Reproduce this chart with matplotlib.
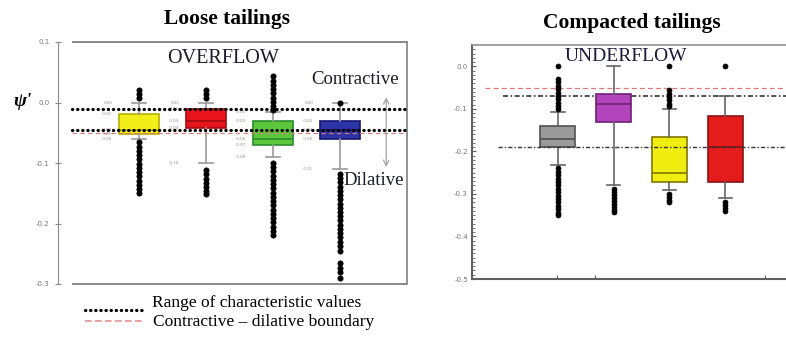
import matplotlib.pyplot as plt
from matplotlib.lines import Line2D

plt.rcParams['axes.unicode_minus'] = False
SERIF = 'Liberation Serif'

W, H = 786, 345


def fx(px):
    return px / W


def fy(py):
    return 1 - py / H


# Loose tailings / OVERFLOW box statistics
over_face = ['#f2ee1a', '#e8161c', '#5cc63c', '#2c34a8']
over_edge = ['#b8b000', '#a00c10', '#2a8c2a', '#181870']
over_q1 = [-0.052, -0.042, -0.070, -0.060]
over_med = [-0.045, -0.030, -0.060, -0.045]
over_q3 = [-0.019, -0.010, -0.031, -0.030]
over_lo = [-0.060, -0.100, -0.090, -0.110]
over_hi = [0.000, 0.000, -0.015, 0.000]
over_fliers = [
    [0.008, 0.014, 0.020, -0.066, -0.073, -0.080, -0.087, -0.094, -0.101,
     -0.108, -0.115, -0.122, -0.129, -0.136, -0.143, -0.150],
    [0.008, 0.014, 0.020, -0.112, -0.119, -0.126, -0.133, -0.140, -0.147,
     -0.152],
    [0.043, 0.036, 0.029, 0.022, 0.015, 0.008, 0.001, -0.006, -0.013,
     -0.100, -0.107, -0.114, -0.121, -0.128, -0.135, -0.142, -0.149,
     -0.156, -0.163, -0.170, -0.177, -0.184, -0.191, -0.198, -0.205,
     -0.212, -0.219],
    [0.000, -0.118, -0.125, -0.132, -0.139, -0.146, -0.153, -0.160, -0.167,
     -0.174, -0.181, -0.188, -0.195, -0.202, -0.209, -0.216, -0.223,
     -0.230, -0.237, -0.245, -0.266, -0.273, -0.280, -0.290],
]
over_char = [-0.011, -0.046]   # range of characteristic values
over_bound = -0.050            # contractive - dilative boundary

# Compacted tailings / UNDERFLOW box statistics
under_face = ['#9a9a9a', '#b444bc', '#f0ee10', '#e41c1c']
under_edge = ['#505050', '#6c2074', '#807800', '#8c1010']
under_q1 = [-0.190, -0.132, -0.273, -0.273]
under_med = [-0.170, -0.088, -0.250, -0.190]
under_q3 = [-0.140, -0.065, -0.167, -0.118]
under_lo = [-0.232, -0.280, -0.290, -0.310]
under_hi = [-0.108, 0.000, -0.100, -0.070]
under_fliers = [
    [0.0, -0.030, -0.038, -0.046, -0.054, -0.062, -0.070, -0.078, -0.086,
     -0.094, -0.100, -0.240, -0.248, -0.256, -0.264, -0.272, -0.280,
     -0.288, -0.296, -0.304, -0.312, -0.320, -0.328, -0.336, -0.344,
     -0.350],
    [-0.288, -0.295, -0.302, -0.309, -0.316, -0.323, -0.330, -0.337, -0.342],
    [0.0, -0.056, -0.064, -0.072, -0.080, -0.088, -0.094, -0.300, -0.307,
     -0.314, -0.320],
    [0.0, -0.318, -0.325, -0.332, -0.340],
]
under_char = [-0.070, -0.190]
under_bound = -0.051


def make_stats(q1, med, q3, lo, hi, fliers):
    return [dict(q1=a, med=b, q3=c, whislo=d, whishi=e, fliers=f)
            for a, b, c, d, e, f in zip(q1, med, q3, lo, hi, fliers)]


def draw_boxes(ax, stats, faces, edges, width, capw, whis_col, ms):
    res = ax.bxp(stats, positions=range(1, len(stats) + 1), widths=width,
                 patch_artist=True, showfliers=True, capwidths=capw,
                 whiskerprops=dict(color=whis_col, lw=1.2),
                 capprops=dict(color=whis_col, lw=1.2),
                 flierprops=dict(marker='o', markerfacecolor='black',
                                 markeredgecolor='black', markersize=ms,
                                 markeredgewidth=0.5),
                 manage_ticks=False, zorder=3)
    for box, med, fc, ec in zip(res['boxes'], res['medians'], faces, edges):
        box.set_facecolor(fc)
        box.set_edgecolor(ec)
        box.set_linewidth(1.2)
        med.set_color(ec)
        med.set_linewidth(1.2)
    return res


fig = plt.figure(figsize=(W / 100, H / 100), dpi=100)

# ---------------- left panel ----------------
ax1 = fig.add_axes([fx(58), fy(284), 349 / W, 242 / H])
ax1.set_xlim(-0.21, 5.0)
ax1.set_ylim(-0.3, 0.1)
for s in ['top', 'bottom']:
    ax1.spines[s].set_visible(False)
ax1.spines['left'].set_color('#8a8a8a')
ax1.spines['right'].set_color('#808080')
ax1.spines['right'].set_linewidth(1.2)
ax1.hlines([0.1, -0.3], 0, 5.0, colors='#808080', lw=1.3, clip_on=False)
ax1.set_xticks([])
ax1.set_yticks([0.1, 0.0, -0.1, -0.2, -0.3])
ax1.set_yticklabels(['0.1', '0.0', '-0.1', '-0.2', '-0.3'])
ax1.tick_params(axis='y', direction='inout', length=4, color='#888888',
                labelsize=5, labelcolor='#777777', pad=4)

ax1.hlines(over_char, 0, 5.0, colors='black', lw=2.3,
           linestyles=[(0, (0.1, 1.5))], capstyle='round', zorder=4)
ax1.hlines(over_bound, 0, 5.0, colors='#e07878', lw=0.8,
           linestyles=[(0, (4, 3))], zorder=4)

stats1 = make_stats(over_q1, over_med, over_q3, over_lo, over_hi, over_fliers)
draw_boxes(ax1, stats1, over_face, over_edge, 0.61, 0.2, '#999999', 3.8)

# tiny value labels beside each box
for i, st in enumerate(stats1):
    for key in ['whishi', 'q3', 'med', 'q1', 'whislo']:
        ax1.text(i + 1 - 0.4, st[key], '%.2f' % st[key], fontsize=2.8,
                 color='#888888', ha='right', va='center')

ax1.text(2.25, 0.073, 'OVERFLOW', fontsize=14.5, family=SERIF,
         ha='center', va='center', color='#1a1a2a')
ax1.text(4.22, 0.038, 'Contractive', fontsize=13.5, family=SERIF,
         ha='center', va='center', color='#1a1a2a')
ax1.text(4.51, -0.129, 'Dilative', fontsize=13.5, family=SERIF,
         ha='center', va='center', color='#1a1a2a')
ax1.annotate('', xy=(4.69, 0.013), xytext=(4.69, -0.111),
             arrowprops=dict(arrowstyle='<->', color='#999999', lw=0.8))

# ---------------- right panel ----------------
ax2 = fig.add_axes([fx(472), fy(279), 314 / W, 234 / H])
ax2.set_xlim(-0.54, 5.09)
ax2.set_ylim(-0.5, 0.05)
ax2.spines['right'].set_visible(False)
for s in ['left', 'bottom']:
    ax2.spines[s].set_color('#606060')
    ax2.spines[s].set_linewidth(1.5)
ax2.spines['top'].set_color('#909090')
ax2.spines['top'].set_linewidth(1.2)
ax2.set_yticks([0.0, -0.1, -0.2, -0.3, -0.4, -0.5])
ax2.set_yticklabels(['0.0', '-0.1', '-0.2', '-0.3', '-0.4', '-0.5'])
ax2.set_yticks([v / 100 for v in range(-50, 5)], minor=True)
ax2.tick_params(axis='y', which='both', direction='in', length=3,
                color='#606060', labelsize=5, labelcolor='#777777', pad=3)
ax2.tick_params(axis='y', which='minor', length=2)
ax2.set_xticks([0.98, 1.66, 4.72])
ax2.set_xticklabels([])
ax2.tick_params(axis='x', direction='in', length=3, color='#606060')

ax2.hlines(under_bound, -0.31, 5.09, colors='#e07878', lw=0.9,
           linestyles=[(0, (4, 2.5))], zorder=2)
ax2.hlines(under_char[0], 0.01, 5.09, colors='#333333', lw=1.2,
           linestyles=[(0, (3, 1.5, 1, 1.5))], zorder=2)
ax2.hlines(under_char[1], -0.08, 5.09, colors='#333333', lw=1.0,
           linestyles=[(0, (3, 1.5, 1, 1.5))], zorder=4)

stats2 = make_stats(under_q1, under_med, under_q3, under_lo, under_hi,
                    under_fliers)
draw_boxes(ax2, stats2, under_face, under_edge, 0.63, 0.24, '#666666', 3.6)

ax2.text(2.22, 0.024, 'UNDERFLOW', fontsize=14, family=SERIF,
         ha='center', va='center', color='#1a1a3a')

# ---------------- titles and legend ----------------
fig.text(fx(227), fy(19), 'Loose tailings', fontsize=15.5, family=SERIF,
         weight='bold', ha='center', va='center')
fig.text(fx(632), fy(23), 'Compacted tailings', fontsize=15.5, family=SERIF,
         weight='bold', ha='center', va='center')
fig.text(fx(22), fy(101), "\u03c8'", fontsize=14, family=SERIF,
         weight='bold', style='italic', ha='center', va='center')

fig.add_artist(Line2D([fx(85), fx(143)], [fy(310), fy(310)], color='black',
                      lw=2.3, linestyle=(0, (0.1, 1.5)),
                      dash_capstyle='round'))
fig.text(fx(152), fy(303), 'Range of characteristic values', fontsize=12.5,
         family=SERIF, ha='left', va='center')
fig.add_artist(Line2D([fx(85), fx(145)], [fy(321), fy(321)], color='#e89090',
                      lw=1.2, linestyle=(0, (4, 2))))
fig.text(fx(153), fy(322), 'Contractive \u2013 dilative boundary',
         fontsize=12.5, family=SERIF, ha='left', va='center')

fig.savefig('out.png', dpi=100)
